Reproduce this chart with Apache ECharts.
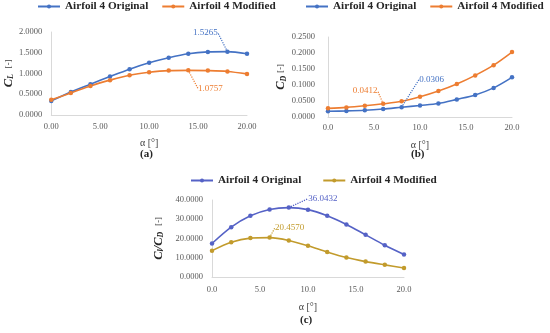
<!DOCTYPE html>
<html><head><meta charset="utf-8">
<script src="https://cdn.jsdelivr.net/npm/echarts@6/dist/echarts.min.js"></script>
<style>html,body{margin:0;padding:0;background:#fff}#c{width:550px;height:333px}</style>
</head><body><div id="c"></div>
<script>
const alpha = [0, 2, 4, 6, 8, 10, 12, 14, 16, 18, 20];
const clOriginal = [0.34, 0.556, 0.742, 0.927, 1.105, 1.258, 1.379, 1.476, 1.520, 1.5265, 1.475];
const clModified = [0.37, 0.53, 0.70, 0.84, 0.96, 1.03, 1.07, 1.0757, 1.07, 1.05, 0.99];
const cdOriginal = [0.018, 0.019, 0.021, 0.025, 0.0306, 0.036, 0.042, 0.055, 0.069, 0.091, 0.124];
const cdModified = [0.027, 0.030, 0.035, 0.0412, 0.049, 0.063, 0.081, 0.103, 0.130, 0.162, 0.203];
const clcdOriginal = [17.4, 25.9, 31.8, 35.1, 36.0432, 35.0, 31.8, 27.3, 21.9, 16.5, 11.7];
const clcdModified = [13.7, 18.1, 20.2, 20.457, 19.0, 16.2, 13.0, 10.1, 8.0, 6.3, 4.7];
const nameOriginal = 'Airfoil 4 Original';
const nameModified = 'Airfoil 4 Modified';
const captions = ['(a)', '(b)', '(c)'];
const xTitle = 'α [°]';

const SERIF = '"Liberation Serif", "DejaVu Serif", serif';
const BLUE = '#4472C4', ORANGE = '#ED7D31', PURPLE = '#5562C6', GOLD = '#C29B2C';
const GRAY = '#595959';

function mkData(xs, ys, calloutIdx, color) {
  return xs.map((x, i) => {
    const item = { value: [x, ys[i]] };
    if (i === calloutIdx) {
      item.label = { show: true, formatter: ys[i].toFixed(4), color: color };
    }
    return item;
  });
}

function mkSeries(idx, name, xs, ys, color, calloutIdx, dx, dy) {
  return {
    type: 'line', name: name, xAxisIndex: idx, yAxisIndex: idx,
    data: mkData(xs, ys, calloutIdx, color),
    smooth: 0.3, symbol: 'circle', symbolSize: 4.5,
    lineStyle: { color: color, width: 1.6 },
    itemStyle: { color: color },
    label: { show: false, position: 'inside', fontFamily: SERIF, fontSize: 9 },
    labelLayout: function () { return { dx: dx, dy: dy }; },
    labelLine: { show: true, lineStyle: { color: color, type: 'dotted', width: 1.2 } },
    emphasis: { disabled: true },
    animation: false
  };
}

function xAxis(idx, dec, margin, gap) {
  return {
    type: 'value', gridIndex: idx, min: 0, max: 20, interval: 5,
    axisLine: { show: true, lineStyle: { color: '#D9D9D9' } },
    axisTick: { show: false }, splitLine: { show: false },
    axisLabel: { color: GRAY, fontFamily: SERIF, fontSize: 8.5, margin: margin,
      formatter: v => v.toFixed(dec) },
    name: xTitle, nameLocation: 'middle', nameGap: gap,
    nameTextStyle: { color: '#404040', fontFamily: SERIF, fontSize: 10 }
  };
}

function yAxis(idx, max, interval, margin, nameRich, gap) {
  return {
    type: 'value', gridIndex: idx, min: 0, max: max, interval: interval,
    axisLine: { show: true, lineStyle: { color: '#D9D9D9' } },
    axisTick: { show: false }, splitLine: { show: false },
    axisLabel: { color: GRAY, fontFamily: SERIF, fontSize: 8.5, margin: margin,
      formatter: v => v.toFixed(4) },
    name: nameRich, nameLocation: 'middle', nameGap: gap, nameRotate: 90,
    nameTextStyle: {
      color: '#262626', fontFamily: SERIF,
      rich: {
        c: { fontFamily: SERIF, fontSize: 12.5, fontWeight: 'bold', fontStyle: 'italic', color: '#262626' },
        s: { fontFamily: SERIF, fontSize: 8, fontWeight: 'bold', fontStyle: 'italic', color: '#262626', verticalAlign: 'bottom', lineHeight: 8, padding: [6, 0, 0, 0] },
        n: { fontFamily: SERIF, fontSize: 8.5, color: '#404040' }
      }
    }
  };
}

function legend(left, top, gap, cO, cM) {
  return {
    left: left, top: top, width: 260, padding: 0, itemWidth: 22, itemHeight: 5, itemGap: gap,
    textStyle: { fontFamily: SERIF, fontWeight: 'bold', fontSize: 11.2, color: '#262626' },
    data: [
      { name: nameOriginal, itemStyle: { color: cO }, lineStyle: { color: cO } },
      { name: nameModified, itemStyle: { color: cM }, lineStyle: { color: cM } }
    ],
    selectedMode: false
  };
}

const chart = echarts.init(document.getElementById('c'), null, { renderer: 'canvas' });
chart.setOption({
  animation: false,
  grid: [
    { left: 49, top: 32, width: 198, height: 83 },
    { left: 328, top: 37, width: 184, height: 80 },
    { left: 212, top: 200, width: 192, height: 77 }
  ],
  legend: [legend(37, 1, 13, BLUE, ORANGE), legend(305, 1, 13, BLUE, ORANGE), legend(190, 175, 21, PURPLE, GOLD)],
  xAxis: [xAxis(0, 2, 7, 23), xAxis(1, 1, 6, 23), xAxis(2, 1, 8, 25)],
  yAxis: [
    yAxis(0, 2, 0.5, 9, '{c|C}{s|L}  {n|[-]}', 34),
    yAxis(1, 0.25, 0.05, 13, '{c|C}{s|D} {n|[-]}', 33),
    yAxis(2, 40, 10, 9, '{c|C}{s|l}{c|/C}{s|D}  {n|[-]}', 47)
  ],
  series: [
    mkSeries(0, nameOriginal, alpha, clOriginal, BLUE, 9, -22, -19),
    mkSeries(0, nameModified, alpha, clModified, ORANGE, 7, 22, 18),
    mkSeries(1, nameOriginal, alpha, cdOriginal, BLUE, 4, 30, -28),
    mkSeries(1, nameModified, alpha, cdModified, ORANGE, 3, -18, -13),
    mkSeries(2, nameOriginal, alpha, clcdOriginal, PURPLE, 4, 34, -9),
    mkSeries(2, nameModified, alpha, clcdModified, GOLD, 3, 20, -10)
  ],
  graphic: [
    { type: 'text', left: 140, top: 149, style: { text: captions[0], font: 'bold 11px ' + SERIF, fill: '#262626' } },
    { type: 'text', left: 411, top: 149, style: { text: captions[1], font: 'bold 11px ' + SERIF, fill: '#262626' } },
    { type: 'text', left: 300, top: 315, style: { text: captions[2], font: 'bold 11px ' + SERIF, fill: '#262626' } }
  ]
});
</script></body></html>
